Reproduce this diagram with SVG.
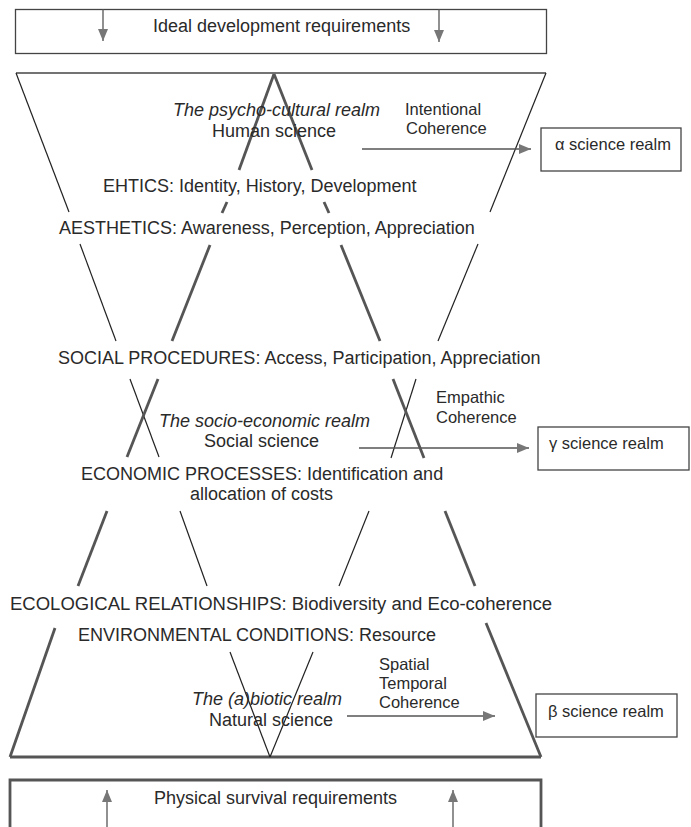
<svg xmlns="http://www.w3.org/2000/svg" width="691" height="827" viewBox="0 0 691 827">
<style>
text{font-family:"Liberation Sans",Arial,sans-serif;font-size:18px;fill:#2a2a2a}
.it{font-style:italic}
.sm{font-size:16.5px}
.thin{stroke:#222;stroke-width:1.2;fill:none}
.thick{stroke:#555;stroke-width:2.8;fill:none}
.box{stroke:#444;stroke-width:1.3;fill:#fff}
.arr{stroke:#555;stroke-width:1.3;fill:none;marker-end:url(#ah)}
</style>
<defs>
<marker id="ah" viewBox="0 0 12 10" refX="12" refY="5" markerWidth="12" markerHeight="10" markerUnits="userSpaceOnUse" orient="auto">
<path d="M0,0 L12,5 L0,10 Z" fill="#777"/>
</marker>
</defs>
<g id="top-box">
<rect class="box" x="15.5" y="9.5" width="531" height="44"/>
<text x="153" y="32">Ideal development requirements</text>
</g>
<g id="bottom-box">
<path d="M10,830 V780 H541 V830" stroke="#555" stroke-width="2.8" fill="none"/>
<text x="154" y="804">Physical survival requirements</text>
</g>
<g id="funnel-lines">
<line x1="16" y1="73" x2="546" y2="73" stroke="#444" stroke-width="1.5"/>
<line x1="10" y1="757" x2="541" y2="757" class="thick"/>
<line class="thin" x1="16" y1="73" x2="69" y2="212"/>
<line class="thin" x1="80" y1="244" x2="116" y2="341"/>
<line class="thin" x1="130" y1="379" x2="159" y2="457"/>
<line class="thin" x1="180" y1="511" x2="207" y2="586"/>
<line class="thin" x1="230" y1="652" x2="270" y2="757"/>
<line class="thin" x1="546" y1="73" x2="490" y2="212"/>
<line class="thin" x1="478" y1="244" x2="438" y2="341"/>
<line class="thin" x1="416" y1="379" x2="391" y2="458"/>
<line class="thin" x1="369" y1="511" x2="339" y2="586"/>
<line class="thin" x1="313" y1="652" x2="270" y2="757"/>
<line class="thick" x1="274" y1="74" x2="239" y2="170"/>
<line class="thick" x1="227" y1="202" x2="222" y2="213"/>
<line class="thick" x1="210" y1="245" x2="172" y2="341"/>
<line class="thick" x1="158" y1="379" x2="127" y2="457"/>
<line class="thick" x1="107" y1="511" x2="78" y2="586"/>
<line class="thick" x1="55" y1="628" x2="10" y2="757"/>
<line class="thick" x1="274" y1="74" x2="312" y2="170"/>
<line class="thick" x1="324" y1="202" x2="329" y2="213"/>
<line class="thick" x1="341" y1="245" x2="380" y2="341"/>
<line class="thick" x1="393" y1="379" x2="424" y2="458"/>
<line class="thick" x1="445" y1="511" x2="475" y2="586"/>
<line class="thick" x1="486" y1="623" x2="541" y2="757"/>
</g>
<g id="connectors">
<line class="arr" x1="103" y1="9" x2="103" y2="41"/>
<line class="arr" x1="439" y1="9" x2="439" y2="42"/>
<line class="arr" x1="107" y1="827" x2="107" y2="790"/>
<line class="arr" x1="453" y1="827" x2="453" y2="790"/>
<line class="arr" x1="362" y1="149" x2="531" y2="149"/>
<line class="arr" x1="359" y1="448" x2="529" y2="448"/>
<line class="arr" x1="347" y1="716" x2="495" y2="716"/>
</g>
<g id="psycho-cultural">
<text class="it" x="173" y="116">The psycho-cultural realm</text>
<text x="212" y="137">Human science</text>
<text class="sm" x="405" y="115">Intentional</text>
<text class="sm" x="406" y="134">Coherence</text>
<text x="103" y="192">EHTICS: Identity, History, Development</text>
<text x="59" y="234">AESTHETICS: Awareness, Perception, Appreciation</text>
</g>
<g id="socio-economic">
<text x="58" y="364">SOCIAL PROCEDURES: Access, Participation, Appreciation</text>
<text class="sm" x="436" y="403">Empathic</text>
<text class="sm" x="436" y="423">Coherence</text>
<text class="it" x="159" y="427">The socio-economic realm</text>
<text x="204" y="447">Social science</text>
<text x="81" y="480">ECONOMIC PROCESSES: Identification and</text>
<text x="190" y="500">allocation of costs</text>
</g>
<g id="abiotic">
<text x="10" y="610" textLength="542" lengthAdjust="spacingAndGlyphs">ECOLOGICAL RELATIONSHIPS: Biodiversity and Eco-coherence</text>
<text x="78" y="641">ENVIRONMENTAL CONDITIONS: Resource</text>
<text class="sm" x="379" y="670">Spatial</text>
<text class="sm" x="379" y="689">Temporal</text>
<text class="sm" x="379" y="708">Coherence</text>
<text class="it" x="192" y="705">The (a)biotic realm</text>
<text x="209" y="726">Natural science</text>
</g>
<g id="alpha-box">
<rect class="box" x="541" y="128" width="140" height="43"/>
<text class="sm" x="555" y="150">α science realm</text>
</g>
<g id="gamma-box">
<rect class="box" x="538" y="427" width="151" height="43"/>
<text class="sm" x="549" y="449">γ science realm</text>
</g>
<g id="beta-box">
<rect class="box" x="536" y="694" width="141" height="43"/>
<text class="sm" x="548" y="717">β science realm</text>
</g>
</svg>
